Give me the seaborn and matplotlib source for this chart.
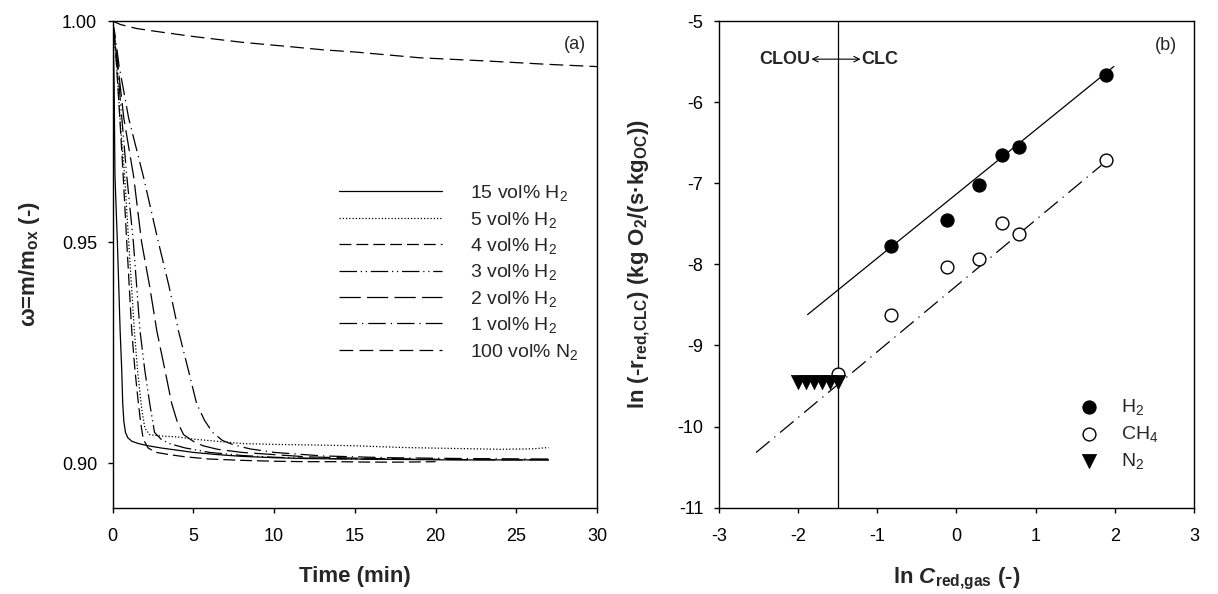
import numpy as np
import pandas as pd
import seaborn as sns
import matplotlib.pyplot as plt
from matplotlib.ticker import FormatStrFormatter

# Panel (a): mass fraction vs time
t15 = [0, 0.05, 0.1, 0.15, 0.3, 0.47, 0.57, 0.63, 0.7, 0.8, 0.95, 1.2, 1.6, 2.2, 3, 4, 5, 6.5, 8, 10, 12, 15, 18, 21, 24, 27]
w15 = [1.0, 0.995, 0.985, 0.965, 0.95, 0.93, 0.921, 0.9136, 0.9095, 0.907, 0.9058, 0.905, 0.9045, 0.904, 0.9035, 0.903, 0.9025, 0.902, 0.9016, 0.9013, 0.9011, 0.901, 0.9009, 0.9008, 0.9008, 0.9008]
t5 = [0, 0.1, 0.25, 0.5, 0.75, 1.0, 1.35, 1.55, 1.8, 2.0, 2.3, 3, 4, 5, 6.5, 8, 10, 12, 15, 18, 21, 24, 26, 27]
w5 = [1.0, 0.997, 0.99, 0.976, 0.965, 0.95, 0.93, 0.921, 0.9125, 0.908, 0.9065, 0.9062, 0.906, 0.9055, 0.905, 0.9045, 0.9043, 0.9042, 0.904, 0.9036, 0.9034, 0.9032, 0.9033, 0.9036]
t4 = [0, 0.1, 0.25, 0.45, 0.66, 0.88, 1.19, 1.39, 1.6, 1.75, 1.9, 2.2, 2.7, 3.5, 4.5, 6, 8, 10, 12, 14, 16, 18, 20]
w4 = [1.0, 0.997, 0.99, 0.978, 0.965, 0.95, 0.93, 0.921, 0.9136, 0.909, 0.9055, 0.9035, 0.9025, 0.902, 0.9015, 0.901, 0.9007, 0.9005, 0.9004, 0.9004, 0.9003, 0.9003, 0.9004]
t3 = [0, 0.1, 0.3, 0.6, 0.88, 1.29, 1.7, 2.0, 2.3, 2.6, 3.0, 3.5, 4.5, 6, 8, 10, 12, 15, 18, 20]
w3 = [1.0, 0.997, 0.99, 0.977, 0.965, 0.95, 0.93, 0.921, 0.9136, 0.907, 0.9055, 0.9045, 0.9035, 0.9025, 0.9018, 0.9014, 0.9012, 0.901, 0.901, 0.9009]
t2 = [0, 0.1, 0.3, 0.7, 1.3, 1.8, 2.3, 2.74, 3.25, 3.66, 4.0, 4.4, 5.0, 5.6, 6.5, 8, 10, 12, 15, 18, 21, 24, 27]
w2 = [1.0, 0.997, 0.991, 0.978, 0.965, 0.95, 0.94, 0.93, 0.921, 0.9136, 0.9095, 0.9065, 0.905, 0.904, 0.9032, 0.9025, 0.902, 0.9015, 0.9012, 0.901, 0.9009, 0.9008, 0.9008]
t1 = [0, 0.15, 0.4, 1.0, 1.9, 2.84, 3.5, 4.08, 4.7, 5.2, 5.7, 6.2, 6.8, 7.5, 8.5, 10, 13, 17, 22, 27]
w1 = [1.0, 0.997, 0.99, 0.978, 0.965, 0.95, 0.94, 0.93, 0.921, 0.9136, 0.9097, 0.907, 0.9052, 0.9042, 0.9033, 0.9025, 0.9017, 0.9013, 0.9011, 0.901]
tN2 = [0, 0.5, 1.5, 3, 5, 8, 11, 13, 15, 19, 23, 27, 30]
wN2 = [1.0, 0.9992, 0.9983, 0.9975, 0.9965, 0.9952, 0.9942, 0.9935, 0.993, 0.9917, 0.991, 0.9902, 0.9897]

series_labels = ["15 vol% H$_2$", "5 vol% H$_2$", "4 vol% H$_2$", "3 vol% H$_2$",
                 "2 vol% H$_2$", "1 vol% H$_2$", "100 vol% N$_2$"]

# Panel (b): ln rate vs ln concentration
h2_x = [-0.82, -0.12, 0.28, 0.57, 0.79, 1.89]
h2_y = [-7.77, -7.45, -7.02, -6.65, -6.55, -5.67]
ch4_x = [-1.5, -0.82, -0.12, 0.28, 0.57, 0.79, 1.89]
ch4_y = [-9.35, -8.63, -8.03, -7.93, -7.49, -7.62, -6.71]
n2_x = [-2.0, -1.9, -1.8, -1.7, -1.6, -1.5]
n2_y = [-9.45, -9.45, -9.45, -9.45, -9.45, -9.45]
h2_fit_x = [-1.88, 1.99]
h2_fit_y = [-8.62, -5.56]
ch4_fit_x = [-2.53, 1.83]
ch4_fit_y = [-10.32, -6.78]

sns.set_style("ticks")
plt.rcParams["font.family"] = ["Liberation Sans", "DejaVu Sans"]
plt.rcParams["axes.unicode_minus"] = False
plt.rcParams["mathtext.fontset"] = "custom"
plt.rcParams["mathtext.rm"] = "Liberation Sans"
plt.rcParams["mathtext.it"] = "Liberation Sans:italic"
plt.rcParams["mathtext.bf"] = "Liberation Sans:bold"
plt.rcParams["mathtext.bfit"] = "Liberation Sans:italic:bold"

fig = plt.figure(figsize=(12.18, 5.94), dpi=100)
ax1 = fig.add_axes([0.0924, 0.1453, 0.3978, 0.8193])
ax2 = fig.add_axes([0.5902, 0.1453, 0.3900, 0.8193])

frames = []
for lab, tt, ww in zip(series_labels, [t15, t5, t4, t3, t2, t1, tN2], [w15, w5, w4, w3, w2, w1, wN2]):
    frames.append(pd.DataFrame({"t": tt, "w": ww, "series": lab}))
df = pd.concat(frames, ignore_index=True)

dash_map = {
    series_labels[0]: "",
    series_labels[1]: (1, 1.6),
    series_labels[2]: (9.5, 4),
    series_labels[3]: (14, 3, 1, 3, 1, 3),
    series_labels[4]: (17, 5),
    series_labels[5]: (14, 4, 1, 4),
    series_labels[6]: (11, 5),
}
sns.lineplot(data=df, x="t", y="w", style="series", style_order=series_labels,
             dashes=dash_map, color="black", linewidth=0.9, estimator=None,
             sort=False, legend=False, ax=ax1)

ax1.legend(handles=ax1.get_lines(), labels=series_labels, loc="upper left",
           bbox_to_anchor=(0.468, 0.667), frameon=False, fontsize=14,
           handlelength=5.3, handletextpad=1.4, labelspacing=0.33,
           borderpad=0, borderaxespad=0)

ax1.set_xlim(0, 30)
ax1.set_ylim(0.89, 1.0)
ax1.set_xticks([0, 5, 10, 15, 20, 25, 30])
ax1.set_yticks([0.90, 0.95, 1.00])
ax1.yaxis.set_major_formatter(FormatStrFormatter("%.2f"))
ax1.set_xlabel("Time (min)", fontsize=16, fontweight="bold", labelpad=15)
ax1.set_ylabel(r"ω=m/m$\mathbf{_{ox}}$ (-)", fontsize=16, fontweight="bold", labelpad=14)
ax1.text(28.6, 0.9948, "(a)", fontsize=13, ha="center", va="center")

# Panel (b)
sns.lineplot(x=h2_fit_x, y=h2_fit_y, color="black", linewidth=0.9, ax=ax2)
sns.lineplot(x=ch4_fit_x, y=ch4_fit_y, color="black", linewidth=0.9, ax=ax2,
             linestyle=(0, (14, 5, 1, 5)))
ax2.axvline(-1.5, color="black", linewidth=0.9)

sns.scatterplot(x=h2_x, y=h2_y, marker="o", s=90, color="black", edgecolor="black",
                linewidth=0.8, ax=ax2, label="H$_2$", zorder=3)
sns.scatterplot(x=ch4_x, y=ch4_y, marker="o", s=85, color="white", edgecolor="black",
                linewidth=1.0, ax=ax2, label="CH$_4$", zorder=3)
sns.scatterplot(x=n2_x, y=n2_y, marker="v", s=105, color="black", edgecolor="black",
                linewidth=0.5, ax=ax2, label="N$_2$", zorder=3)

ax2.legend(loc="upper left", bbox_to_anchor=(0.747, 0.228), frameon=False,
           fontsize=14, handlelength=1.6, handletextpad=0.85, labelspacing=0.37,
           borderpad=0, borderaxespad=0)

ax2.text(-1.85, -5.47, "CLOU", fontsize=13, fontweight="bold", ha="right", va="center")
ax2.text(-1.2, -5.47, "CLC", fontsize=13, fontweight="bold", ha="left", va="center")
ax2.annotate("", xy=(-1.21, -5.47), xytext=(-1.83, -5.47),
             arrowprops=dict(arrowstyle="<->", color="black", lw=0.8,
                             shrinkA=0, shrinkB=0))
ax2.text(2.65, -5.3, "(b)", fontsize=13, ha="center", va="center")

ax2.set_xlim(-3, 3)
ax2.set_ylim(-11, -5)
ax2.set_xticks([-3, -2, -1, 0, 1, 2, 3])
ax2.set_yticks([-11, -10, -9, -8, -7, -6, -5])
ax2.set_xlabel(r"ln $\mathbfit{C}_{\mathbf{red{,}gas}}$ (-)", fontsize=16,
               fontweight="bold", labelpad=15)
ax2.set_ylabel(r"ln (-$\mathbf{r_{red{,}CLC}}$) (kg O$\mathbf{_2}$/(s·kg$\mathbf{_{OC}}$))",
               fontsize=16, fontweight="bold", labelpad=18)

for ax in (ax1, ax2):
    for sp in ax.spines.values():
        sp.set_visible(True)
        sp.set_linewidth(1.0)
        sp.set_color("black")
    ax.tick_params(axis="both", which="major", direction="out", length=3.6,
                   width=1.0, labelsize=13, colors="black", top=False, right=False)
    ax.tick_params(axis="x", pad=11)
    ax.tick_params(axis="y", pad=7.5)

fig.savefig("out.png", dpi=100)
